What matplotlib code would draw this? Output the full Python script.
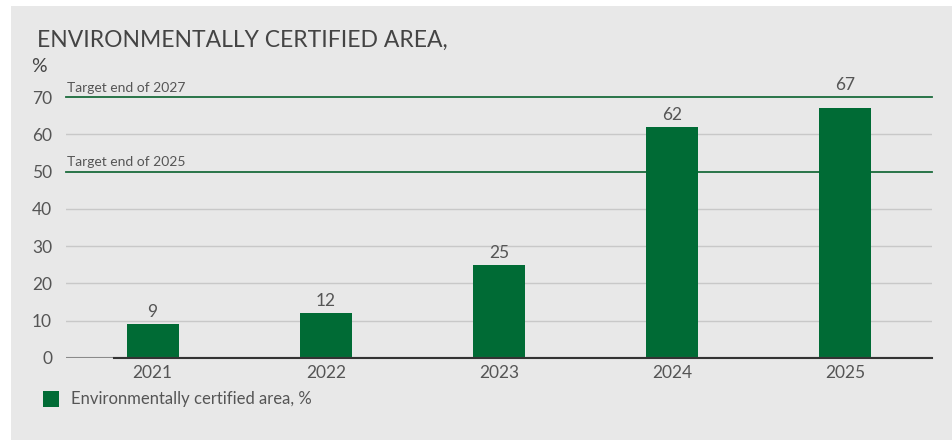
import matplotlib
matplotlib.use("Agg")
import matplotlib.pyplot as plt
from matplotlib.patches import Rectangle

years = ["2021", "2022", "2023", "2024", "2025"]
values = [9, 12, 25, 62, 67]
targets = [70, 50]
target_labels = ["Target end of 2027", "Target end of 2025"]
yticks = [0, 10, 20, 30, 40, 50, 60, 70]
title = "ENVIRONMENTALLY CERTIFIED AREA,"
unit = "%"
legend_label = "Environmentally certified area, %"

GREEN = "#006b35"
TEXT = "#555555"
BG = "#e8e8e8"

plt.rcParams['font.family'] = ['Lato', 'DejaVu Sans']

W, H = 953, 440
fig = plt.figure(figsize=(W / 100, H / 100), dpi=100)
fig.patch.set_facecolor("white")
fig.add_artist(Rectangle((11 / W, 0), 1 - 11 / W, 1 - 6 / H, transform=fig.transFigure,
                         facecolor=BG, edgecolor="none", zorder=0))

ax = fig.add_axes([66 / W, 1 - 358 / H, (932 - 66) / W, (358 - 97) / H])
ax.set_facecolor("none")
x = list(range(len(years)))
ax.set_xlim(-0.5, len(years) - 0.5)
ax.set_ylim(0, 70)

for t in yticks[1:]:
    if t in targets:
        continue
    ax.axhline(t, color="#c8c8c8", lw=1, zorder=1)
for t, lab in zip(targets, target_labels):
    ax.axhline(t, color="#1b6b3c", lw=1.3, zorder=1, clip_on=False)
    ax.text(0.001, t + 0.9, lab, transform=ax.get_yaxis_transform(), fontsize=10,
            color=TEXT, ha="left", va="bottom")

bars = ax.bar(x, values, width=0.3, color=GREEN, zorder=2)
top_target = max(targets)
for xi, v in zip(x, values):
    ly = v if v + 5 < top_target else top_target
    ax.annotate(str(v), (xi, ly), xytext=(0, 3), textcoords="offset points",
                ha="center", va="bottom", fontsize=12.5, color=TEXT,
                annotation_clip=False)

ax.axhline(0, color="#8a8a8a", lw=1.5, zorder=3)
ax.plot([-0.223, 4.5], [0, 0], color="#333333", lw=1.5, zorder=3, clip_on=False)

for s in ax.spines.values():
    s.set_visible(False)
ax.set_xticks(x)
ax.set_xticklabels(years)
ax.set_yticks(yticks)
ax.tick_params(axis="both", length=0, labelsize=12.5, labelcolor=TEXT)
ax.tick_params(axis="y", pad=10)
ax.tick_params(axis="x", pad=5)

fig.text(37 / W, 1 - 40 / H, title, fontsize=16.5, color="#444444", ha="left", va="center")
fig.text(31 / W, 1 - 66 / H, unit, fontsize=14, color="#444444", ha="left", va="center")

fig.add_artist(Rectangle((43 / W, 1 - 407 / H), 16 / W, 16 / H, transform=fig.transFigure,
                         facecolor=GREEN, edgecolor="none"))
fig.text(71 / W, 1 - 399 / H, legend_label, fontsize=12, color=TEXT, ha="left", va="center")

fig.savefig("out.png", dpi=100, facecolor=fig.get_facecolor())
